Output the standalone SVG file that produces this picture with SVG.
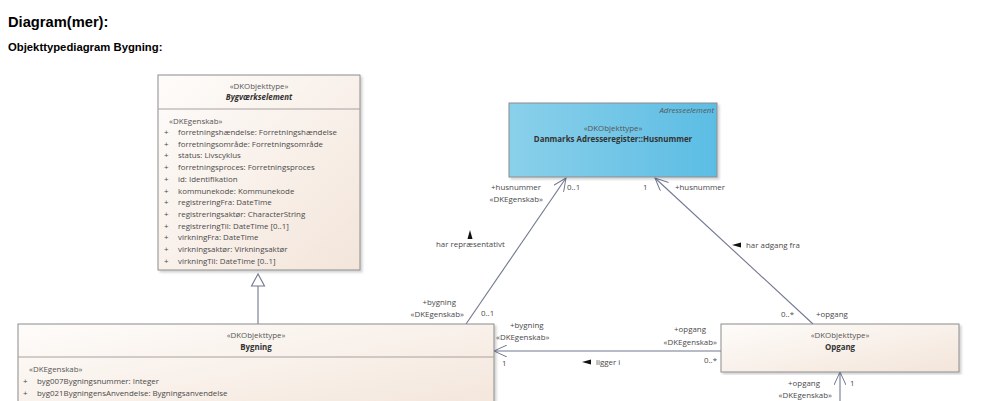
<svg xmlns="http://www.w3.org/2000/svg" width="985" height="401" viewBox="0 0 985 401">
<defs>
<linearGradient id="beige" x1="0" y1="0" x2="1" y2="1">
<stop offset="0" stop-color="#fefcfa"/>
<stop offset="1" stop-color="#f3e5da"/>
</linearGradient>
<linearGradient id="blue" x1="0" y1="0" x2="1" y2="0">
<stop offset="0" stop-color="#8ad0ea"/>
<stop offset="1" stop-color="#5cbde4"/>
</linearGradient>
<marker id="open" viewBox="0 0 14 12" refX="13" refY="6" markerWidth="14" markerHeight="12" markerUnits="userSpaceOnUse" orient="auto">
<path d="M0,0 L13,6 L0,12" fill="none" stroke="#717892" stroke-width="1"/>
</marker>
<filter id="sh" x="-5%" y="-5%" width="110%" height="110%">
<feDropShadow dx="2" dy="2" stdDeviation="1.2" flood-color="#000" flood-opacity="0.18"/>
</filter>
</defs>
<style>
.h1{font-family:"Liberation Sans",Arial,sans-serif;font-weight:bold;font-size:14.7px;fill:#000}
.h2{font-family:"Liberation Sans",Arial,sans-serif;font-weight:bold;font-size:11.3px;fill:#000}
.box{fill:url(#beige);stroke:#8c8c8c;stroke-width:1}
.div{stroke:#a9a0a0;stroke-width:1}
.t{font-family:"Open Sans","Noto Sans",sans-serif;font-size:7.9px;fill:#4a4a4a}
.st{font-family:"Open Sans","Noto Sans",sans-serif;font-size:7.9px;fill:#555}
.nm{font-family:"Open Sans","Noto Sans",sans-serif;font-size:7.9px;font-weight:bold;fill:#333}
.c{text-anchor:middle}
.r{text-anchor:end}
.ln{stroke:#717892;stroke-width:1.1;fill:none}
.tri{fill:#111}
</style>
<rect width="985" height="401" fill="#fff"/>
<text class="h1" x="8" y="27">Diagram(mer):</text>
<text class="h2" x="8" y="51">Objekttypediagram Bygning:</text>

<g id="connectors">
<line class="ln" x1="258" y1="286" x2="258" y2="324"/>
<path d="M258,274 L251.5,286 L264.5,286 Z" fill="#fff" stroke="#717892" stroke-width="1.1"/>
<line class="ln" x1="466" y1="324" x2="566" y2="178" marker-end="url(#open)"/>
<line class="ln" x1="813" y1="324" x2="655" y2="178" marker-end="url(#open)"/>
<line class="ln" x1="721" y1="351" x2="494" y2="351" marker-end="url(#open)"/>
<line class="ln" x1="840" y1="401" x2="840" y2="372" marker-end="url(#open)"/>
<text class="t r" x="541" y="190">+husnummer</text>
<text class="t r" x="543" y="202">«DKEgenskab»</text>
<text class="t" x="567" y="190">0..1</text>
<path class="tri" d="M470,230 L467.5,239 L472.5,239 Z"/>
<text class="t" x="436" y="247">har repræsentativt</text>
<text class="t r" x="456" y="305">+bygning</text>
<text class="t r" x="464" y="317">«DKEgenskab»</text>
<text class="t" x="481" y="316">0..1</text>
<text class="t" x="643" y="190">1</text>
<text class="t" x="675" y="190">+husnummer</text>
<path class="tri" d="M732,245 L741,242.5 L741,247.5 Z"/>
<text class="t" x="746" y="248">har adgang fra</text>
<text class="t" x="781" y="317">0..*</text>
<text class="t" x="816" y="317">+opgang</text>
<text class="t" x="510" y="328">+bygning</text>
<text class="t" x="496" y="340">«DKEgenskab»</text>
<text class="t" x="502" y="366">1</text>
<path class="tri" d="M582,362 L591,359.5 L591,364.5 Z"/>
<text class="t" x="596" y="365">ligger i</text>
<text class="t r" x="706" y="332">+opgang</text>
<text class="t r" x="717" y="345">«DKEgenskab»</text>
<text class="t r" x="717" y="363">0..*</text>
<text class="t r" x="820" y="386">+opgang</text>
<text class="t r" x="832" y="398">«DKEgenskab»</text>
<text class="t" x="850" y="386">1</text>
</g>

<g id="bygvaerkselement">
<rect class="box" x="158" y="75" width="202" height="195" filter="url(#sh)"/>
<line class="div" x1="158" y1="109" x2="360" y2="109"/>
<text class="st c" x="259" y="89">«DKObjekttype»</text>
<text class="nm c" x="259" y="100" font-style="italic">Bygværkselement</text>
<text class="st" x="169" y="124">«DKEgenskab»</text>
<g class="t">
<text x="164" y="135">+</text><text x="178" y="135">forretningshændelse: Forretningshændelse</text>
<text x="164" y="146.7">+</text><text x="178" y="146.7">forretningsområde: Forretningsområde</text>
<text x="164" y="158.4">+</text><text x="178" y="158.4">status: Livscyklus</text>
<text x="164" y="170.1">+</text><text x="178" y="170.1">forretningsproces: Forretningsproces</text>
<text x="164" y="181.8">+</text><text x="178" y="181.8">id: Identifikation</text>
<text x="164" y="193.5">+</text><text x="178" y="193.5">kommunekode: Kommunekode</text>
<text x="164" y="205.2">+</text><text x="178" y="205.2">registreringFra: DateTime</text>
<text x="164" y="216.9">+</text><text x="178" y="216.9">registreringsaktør: CharacterString</text>
<text x="164" y="228.6">+</text><text x="178" y="228.6">registreringTil: DateTime [0..1]</text>
<text x="164" y="240.3">+</text><text x="178" y="240.3">virkningFra: DateTime</text>
<text x="164" y="252">+</text><text x="178" y="252">virkningsaktør: Virkningsaktør</text>
<text x="164" y="263.7">+</text><text x="178" y="263.7">virkningTil: DateTime [0..1]</text>
</g>
</g>

<g id="husnummer">
<rect x="509" y="103" width="208" height="74" fill="url(#blue)" stroke="#8c8c8c" stroke-width="1" filter="url(#sh)"/>
<text class="st r" x="714" y="113" font-style="italic">Adresseelement</text>
<text class="st c" x="613" y="131">«DKObjekttype»</text>
<text class="nm c" x="613" y="142">Danmarks Adresseregister::Husnummer</text>
</g>

<g id="bygning">
<rect class="box" x="18" y="324" width="476" height="90" filter="url(#sh)"/>
<line class="div" x1="18" y1="357" x2="494" y2="357"/>
<text class="st c" x="256" y="338">«DKObjekttype»</text>
<text class="nm c" x="256" y="350">Bygning</text>
<text class="st" x="29" y="372">«DKEgenskab»</text>
<g class="t">
<text x="23" y="384">+</text><text x="37" y="384">byg007Bygningsnummer: Integer</text>
<text x="23" y="396">+</text><text x="37" y="396">byg021BygningensAnvendelse: Bygningsanvendelse</text>
</g>
</g>

<g id="opgang">
<rect class="box" x="721" y="324" width="238" height="48" filter="url(#sh)"/>
<text class="st c" x="840" y="338">«DKObjekttype»</text>
<text class="nm c" x="840" y="350">Opgang</text>
</g>
</svg>
